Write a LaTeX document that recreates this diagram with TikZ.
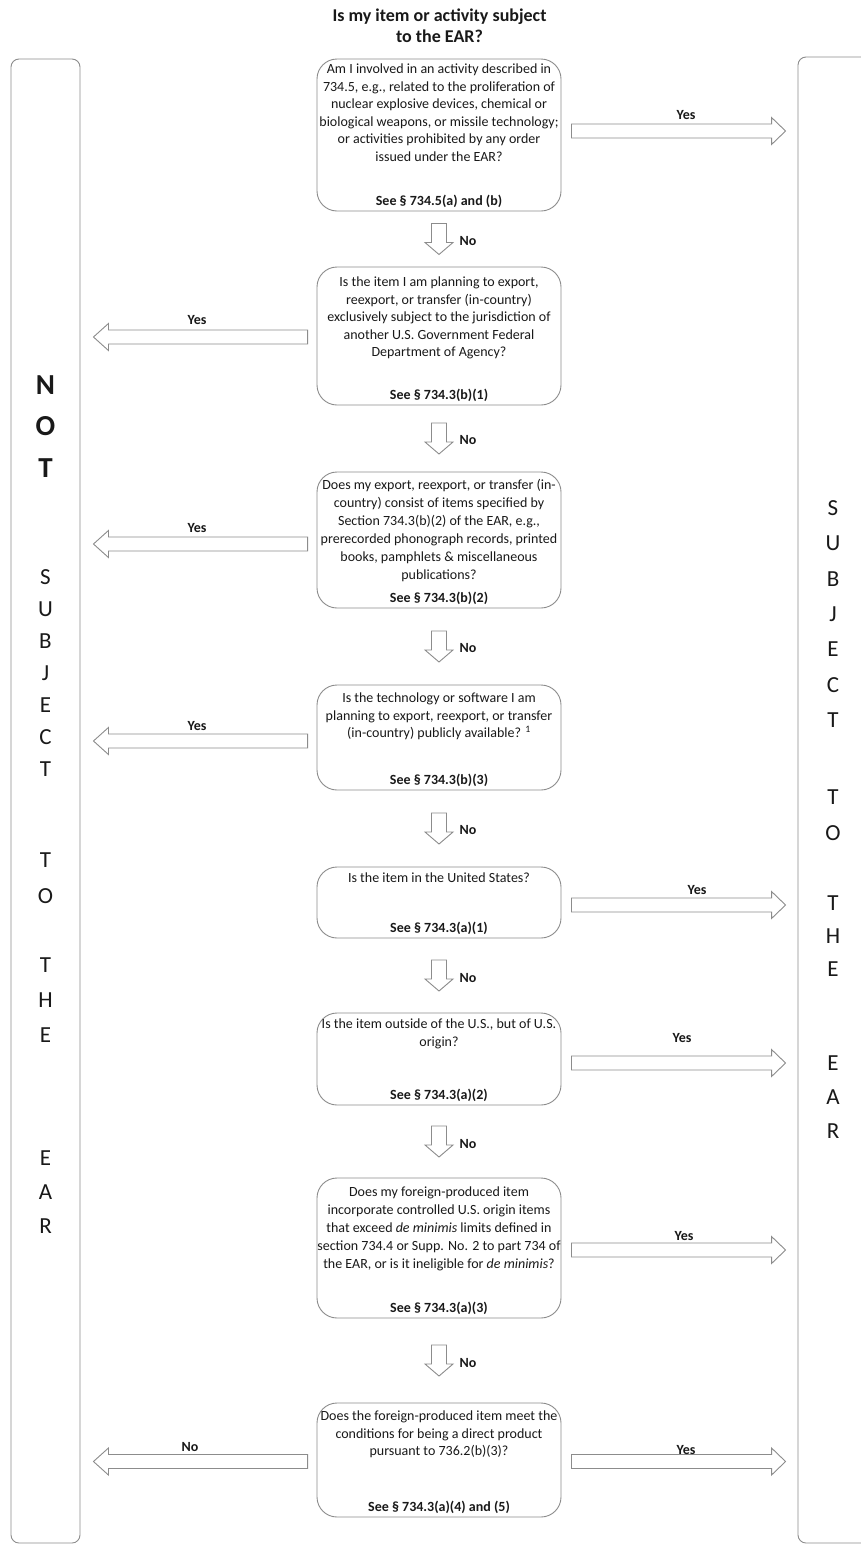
\documentclass[tikz,border=0pt]{standalone}
\usepackage{fontspec}
\setmainfont{Carlito}
\usetikzlibrary{calc}
\definecolor{txt}{RGB}{25,25,25}
\definecolor{linegray}{RGB}{140,140,140}
\tikzset{
  qbox/.style={draw=linegray, line width=0.9pt, rounded corners=20pt, minimum width=244pt, inner sep=0pt},
  qtext/.style={anchor=north, align=center, inner sep=0pt, font=\fontsize{14}{17.6}\selectfont, text=txt},
  seetext/.style={anchor=base, inner sep=0pt, font=\fontsize{14}{16}\selectfont\bfseries, text=txt},
  panel/.style={draw=linegray, line width=0.9pt, rounded corners=8pt, inner sep=0pt},
  fat/.style={draw=linegray, line width=0.9pt, fill=white, line join=miter},
  lbl/.style={font=\fontsize{14}{16}\selectfont\bfseries, inner sep=0pt, text=txt},
  sidebold/.style={align=center, inner sep=0pt, font=\fontsize{29}{41.5}\selectfont\bfseries, text=txt},
  sidereg/.style={align=center, inner sep=0pt, text=txt},
}
\newcommand\fatR[2]{%
  \draw[fat] let \p1=#1, \p2=(#2.west) in
   (\x1,\y1+7) -- (\x2-26,\y1+7) -- (\x2-26,\y1+13.5) -- (\x2-12,\y1) --
   (\x2-26,\y1-13.5) -- (\x2-26,\y1-7) -- (\x1,\y1-7) -- cycle;}
\newcommand\fatL[2]{%
  \draw[fat] let \p1=#1, \p2=(#2.east) in
   (\x1,\y1+7) -- (\x2+28,\y1+7) -- (\x2+28,\y1+13.5) -- (\x2+13,\y1) --
   (\x2+28,\y1-13.5) -- (\x2+28,\y1-7) -- (\x1,\y1-7) -- cycle;}
\newcommand\fatD[2]{%
  \draw[fat] let \p1=($(#1.south)!0.5!(#2.north)$) in
   (\x1-7.5,\y1+15.5) -- (\x1+7.5,\y1+15.5) -- (\x1+7.5,\y1-3.5) -- (\x1+14,\y1-3.5) --
   (\x1,\y1-15.5) -- (\x1-14,\y1-3.5) -- (\x1-7.5,\y1-3.5) -- cycle;}
\begin{document}
\begin{tikzpicture}[x=1pt,y=-1pt]
\useasboundingbox (0,0) rectangle (860,1545);
\fill[white] (0,0) rectangle (860,1545);

% title
\node[align=center, inner sep=0pt, font=\fontsize{18}{21}\selectfont\bfseries, text=txt] (title) at (439.5,26) {Is my item or activity subject\\to the EAR?};

% side panels
\node[panel, minimum width=69pt, minimum height=1484pt] (L) at (45.5,801) {};
\node[panel, minimum width=82pt, minimum height=1486pt] (R) at (839,800) {};

% question boxes
\node[qbox, minimum height=152pt] (b1) at (439,135) {};
\node[qbox, minimum height=138pt] (b2) at (439,336) {};
\node[qbox, minimum height=136pt] (b3) at (439,540) {};
\node[qbox, minimum height=105pt] (b4) at (439,737.5) {};
\node[qbox, minimum height=71pt]  (b5) at (439,902.5) {};
\node[qbox, minimum height=92pt]  (b6) at (439,1059) {};
\node[qbox, minimum height=140pt] (b7) at (439,1248) {};
\node[qbox, minimum height=114pt] (b8) at (439,1460) {};

\node[qtext] (t1) at ($(b1.north)+(0,5)$) {Am I involved in an activity described in\\734.5, e.g., related to the proliferation of\\nuclear explosive devices, chemical or\\biological weapons, or missile technology;\\or activities prohibited by any order\\issued under the EAR?};
\node[seetext] (s1) at ($(b1.south)+(0,-6)$) {See § 734.5(a) and (b)};

\node[qtext] (t2) at ($(b2.north)+(0,10)$) {Is the item I am planning to export,\\reexport, or transfer (in-country)\\exclusively subject to the jurisdiction of\\another U.S. Government Federal\\Department of Agency?};
\node[seetext] (s2) at ($(b2.south)+(0,-6)$) {See § 734.3(b)(1)};

\node[qtext, font=\fontsize{14}{18}\selectfont] (t3) at ($(b3.north)+(0,8)$) {Does my export, reexport, or transfer (in-\\country) consist of items specified by\\Section 734.3(b)(2) of the EAR, e.g.,\\prerecorded phonograph records, printed\\books, pamphlets \& miscellaneous\\publications?};
\node[seetext] (s3) at ($(b3.south)+(0,-6)$) {See § 734.3(b)(2)};

\node[qtext] (t4) at ($(b4.north)+(0,8)$) {Is the technology or software I am\\planning to export, reexport, or transfer\\(in-country) publicly available? \textsuperscript{1}};
\node[seetext] (s4) at ($(b4.south)+(0,-6)$) {See § 734.3(b)(3)};

\node[qtext] (t5) at ($(b5.north)+(0,6)$) {Is the item in the United States?};
\node[seetext] (s5) at ($(b5.south)+(0,-6)$) {See § 734.3(a)(1)};

\node[qtext] (t6) at ($(b6.north)+(0,6)$) {Is the item outside of the U.S., but of U.S.\\origin?};
\node[seetext] (s6) at ($(b6.south)+(0,-6)$) {See § 734.3(a)(2)};

\node[qtext, font=\fontsize{14}{18}\selectfont] (t7) at ($(b7.north)+(0,9)$) {Does my foreign-produced item\\incorporate controlled U.S. origin items\\that exceed \textit{de minimis} limits defined in\\section 734.4 or Supp. No. 2 to part 734 of\\the EAR, or is it ineligible for \textit{de minimis}?};
\node[seetext] (s7) at ($(b7.south)+(0,-6)$) {See § 734.3(a)(3)};

\node[qtext] (t8) at ($(b8.north)+(0,8)$) {Does the foreign-produced item meet the\\conditions for being a direct product\\pursuant to 736.2(b)(3)?};
\node[seetext] (s8) at ($(b8.south)+(0,-6)$) {See § 734.3(a)(4) and (5)};

% down arrows
\fatD{b1}{b2}
\fatD{b2}{b3}
\fatD{b3}{b4}
\fatD{b4}{b5}
\fatD{b5}{b6}
\fatD{b6}{b7}
\fatD{b7}{b8}
\node[lbl] (n1) at ($(b1.south)!0.5!(b2.north)+(29,2)$) {No};
\node[lbl] (n2) at ($(b2.south)!0.5!(b3.north)+(29,2)$) {No};
\node[lbl] (n3) at ($(b3.south)!0.5!(b4.north)+(29,2)$) {No};
\node[lbl] (n4) at ($(b4.south)!0.5!(b5.north)+(29,2)$) {No};
\node[lbl] (n5) at ($(b5.south)!0.5!(b6.north)+(29,2)$) {No};
\node[lbl] (n6) at ($(b6.south)!0.5!(b7.north)+(29,2)$) {No};
\node[lbl] (n7) at ($(b7.south)!0.5!(b8.north)+(29,2)$) {No};

% horizontal arrows
\fatR{($(b1.east)+(10,-4)$)}{R}
\fatL{($(b2.west)+(-9,1)$)}{L}
\fatL{($(b3.west)+(-9,4)$)}{L}
\fatL{($(b4.west)+(-9,3.5)$)}{L}
\fatR{($(b5.east)+(10,2.5)$)}{R}
\fatR{($(b6.east)+(10,4)$)}{R}
\fatR{($(b7.east)+(10,2)$)}{R}
\fatL{($(b8.west)+(-9,1.5)$)}{L}
\fatR{($(b8.east)+(10,1.5)$)}{R}

\node[lbl] (y1) at (686,115) {Yes};
\node[lbl] (y2) at (197,320) {Yes};
\node[lbl] (y3) at (197,528) {Yes};
\node[lbl] (y4) at (197,726) {Yes};
\node[lbl] (y5) at (697,890) {Yes};
\node[lbl] (y6) at (682,1038) {Yes};
\node[lbl] (y7) at (684,1236) {Yes};
\node[lbl] (no8) at (190,1447) {No};
\node[lbl] (y8) at (686,1450) {Yes};

% left column text
\node[sidebold] (lnot) at (45.5,426.5) {N\\O\\T};
\node[sidereg, font=\fontsize{23}{32}\selectfont] (lsub) at (45.5,673.5) {S\\U\\B\\J\\E\\C\\T};
\node[sidereg, font=\fontsize{23}{36}\selectfont] (lto) at (45.5,878) {T\\O};
\node[sidereg, font=\fontsize{23}{35}\selectfont] (lthe) at (45.5,1000) {T\\H\\E};
\node[sidereg, font=\fontsize{23}{34}\selectfont] (lear) at (45.5,1192) {E\\A\\R};

% right column text
\node[sidereg, font=\fontsize{23}{35.3}\selectfont] (rsub) at (833,614) {S\\U\\B\\J\\E\\C\\T};
\node[sidereg, font=\fontsize{23}{36}\selectfont] (rto) at (833,815) {T\\O};
\node[sidereg, font=\fontsize{23}{33}\selectfont] (rthe) at (833,936) {T\\H\\E};
\node[sidereg, font=\fontsize{23}{34}\selectfont] (rear) at (833,1097) {E\\A\\R};
\end{tikzpicture}
\end{document}
